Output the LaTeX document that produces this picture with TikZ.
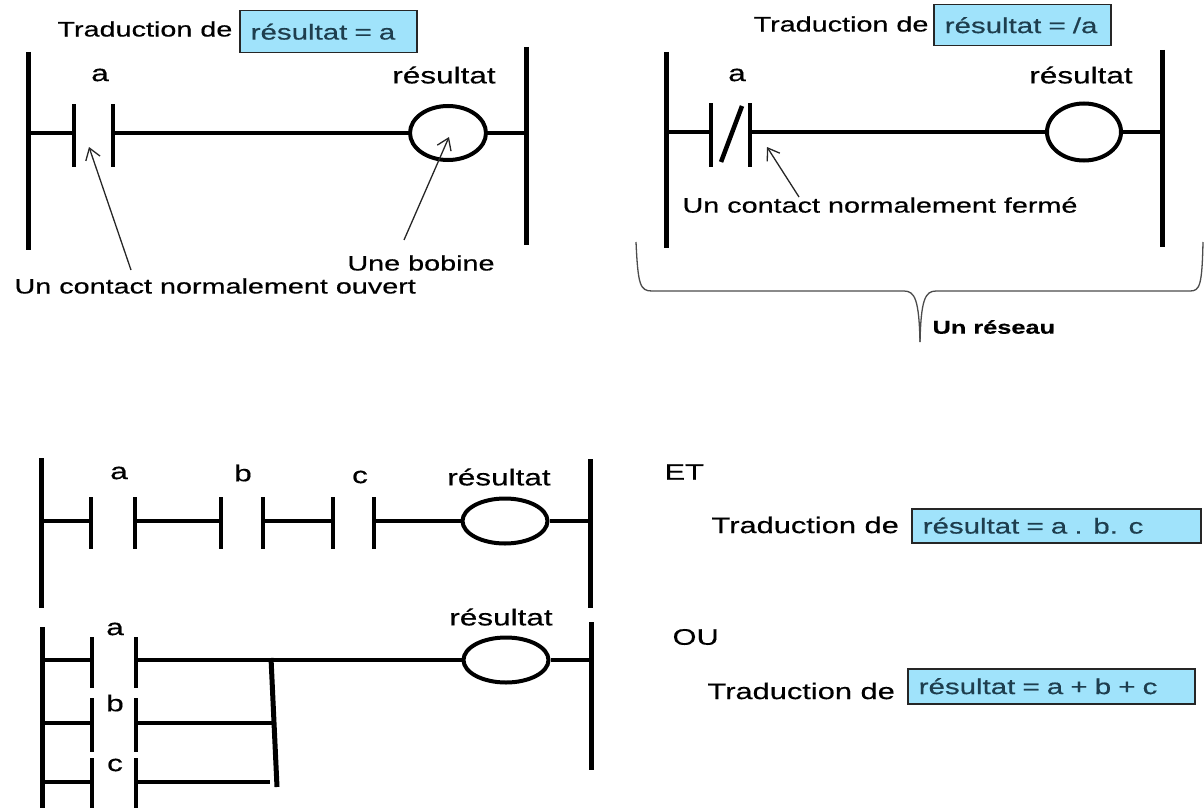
\documentclass[tikz,border=0pt]{standalone}
\usepackage{fontspec}
\setmainfont{Liberation Sans}[FakeStretch=1.37,FakeBold=0.5]
\usepackage{tikz}
\usetikzlibrary{shapes.geometric,arrows.meta}

\definecolor{boxblue}{RGB}{160,227,251}
\definecolor{boxtext}{RGB}{30,62,78}

\tikzset{
  rail/.style={line width=5pt},
  wire/.style={line width=3.5pt},
  plate/.style={line width=4.5pt},
  coil/.style={draw,ellipse,line width=4pt,inner sep=0pt},
  lbl/.style={font=\fontsize{23}{27}\selectfont},
  note/.style={font=\fontsize{21}{25}\selectfont},
  noteb/.style={font=\fontsize{22.5}{27}\selectfont},
  eqbox/.style={draw=black!85,line width=1.5pt,fill=boxblue,text=boxtext,
    anchor=north west,inner xsep=11pt,inner ysep=0pt,align=left,
    font=\fontsize{21.5}{26}\selectfont},
  pointer/.style={line width=1.3pt,black!85,-{Straight Barb[length=11pt,width=15pt]}},
  brace/.style={line width=1.3pt,black!70}
}

\begin{document}
\begin{tikzpicture}[x=1pt,y=-1pt]
\useasboundingbox (0,0) rectangle (1204,808);

% contact normalement ouvert
\draw[rail] (28,52) -- (28,250);
\draw[rail] (526,47) -- (526,245);
\foreach \x in {74,113} \draw[plate] (\x,104) -- (\x,167);
\node[coil,minimum width=76pt,minimum height=54pt] (coilA) at (448,133) {};
\draw[wire] (28,133) -- (74,133);
\draw[wire] (113,133) -- (coilA.west);
\draw[wire] (coilA.east) -- (526,133);
\node[lbl] (labA) at (100,75) {a};
\node[lbl] (resA) at (444,75) {résultat};
\node[note,anchor=west] (trA) at (54,29) {Traduction de};
\node[eqbox,text width=155pt,minimum height=42pt] (eqA) at (239,10) {résultat = a};
\node[note] (bob) at (421,263) {Une bobine};
\node[note,anchor=west] (ouv) at (11,286) {Un contact normalement ouvert};
\coordinate (ouvTail) at (131,270);
\coordinate (ouvTip) at (89,147);
\coordinate (bobTail) at (404,240);
\coordinate (bobTip) at (449,137);
\draw[pointer] (ouvTail) -- (ouvTip);
\draw[pointer] (bobTail) -- (bobTip);

% contact normalement ferme
\draw[rail] (666,52) -- (666,248);
\draw[rail] (1162,50) -- (1162,247);
\foreach \x in {711,750} \draw[plate] (\x,103) -- (\x,167);
\draw[plate] (721,162) -- (742,106);
\node[coil,minimum width=74pt,minimum height=57pt] (coilB) at (1084,132) {};
\draw[wire] (666,132) -- (711,132);
\draw[wire] (750,132) -- (coilB.west);
\draw[wire] (coilB.east) -- (1162,132);
\node[lbl] (labB) at (737,75) {a};
\node[lbl] (resB) at (1081,75) {résultat};
\node[note,anchor=east] (trB) at (932,24) {Traduction de};
\node[eqbox,text width=155pt,minimum height=41pt] (eqB) at (933,4) {résultat = /a};
\node[note,anchor=west] (ferm) at (679,205) {Un contact normalement fermé};
\coordinate (fermTail) at (799,197);
\coordinate (fermTip) at (767,147);
\draw[pointer] (fermTail) -- (fermTip);

% accolade
\draw[brace] (636,242) .. controls (638,285) and (640,291) .. (652,291) -- (904,291)
  .. controls (915,291) and (919,300) .. (920,342);
\draw[brace] (920,342) .. controls (921,300) and (925,291) .. (936,291) -- (1190,291)
  .. controls (1200,291) and (1202,285) .. (1203,242);
\node[font=\fontsize{18.5}{22}\selectfont\bfseries,anchor=west] (res) at (929,327) {Un réseau};

% ET
\draw[rail] (41,458) -- (41,608);
\draw[rail] (590,459) -- (590,608);
\foreach \x in {91,135,221,263,333,374} \draw[plate] (\x,497) -- (\x,549);
\node[coil,minimum width=85pt,minimum height=45pt] (coilC) at (505,521) {};
\draw[wire] (41,521) -- (91,521);
\draw[wire] (135,521) -- (221,521);
\draw[wire] (263,521) -- (333,521);
\draw[wire] (374,521) -- (coilC.west);
\draw[wire] (coilC.east) -- (590,521);
\node[lbl] (labCa) at (119,473) {a};
\node[lbl] (labCb) at (243,473) {b};
\node[lbl] (labCc) at (360,477) {c};
\node[lbl] (resC) at (499,477) {résultat};
\node[noteb,anchor=west] (et) at (661,472) {ET};
\node[noteb,anchor=west] (trC) at (708,525) {Traduction de};
\node[eqbox,text width=267pt,minimum height=34pt] (eqC) at (911,508) {résultat = a . b. c};

% OU
\draw[rail] (42,627) -- (42,808);
\draw[rail] (591,622) -- (591,770);
\foreach \x in {92,136} {
  \draw[plate] (\x,637) -- (\x,688);
  \draw[plate] (\x,698) -- (\x,752);
  \draw[plate] (\x,758) -- (\x,808);
}
\node[coil,minimum width=85pt,minimum height=45pt] (coilD) at (506,660) {};
\foreach \y in {660,723,782} \draw[wire] (42,\y) -- (92,\y);
\draw[wire] (136,660) -- (coilD.west);
\draw[wire] (136,723) -- (274,723);
\draw[wire] (136,782) -- (270,782);
\draw[rail] (271,658) -- (277,787);
\draw[wire] (coilD.east) -- (591,660);
\node[lbl] (labDa) at (115,629) {a};
\node[lbl] (labDb) at (115,703) {b};
\node[lbl] (labDc) at (115,765) {c};
\node[lbl] (resD) at (501,617) {résultat};
\node[noteb,anchor=west] (ou) at (669,637) {OU};
\node[noteb,anchor=west] (trD) at (704,691) {Traduction de};
\node[eqbox,text width=265pt,minimum height=35pt] (eqD) at (907,668) {résultat = a + b + c};
\end{tikzpicture}
\end{document}
